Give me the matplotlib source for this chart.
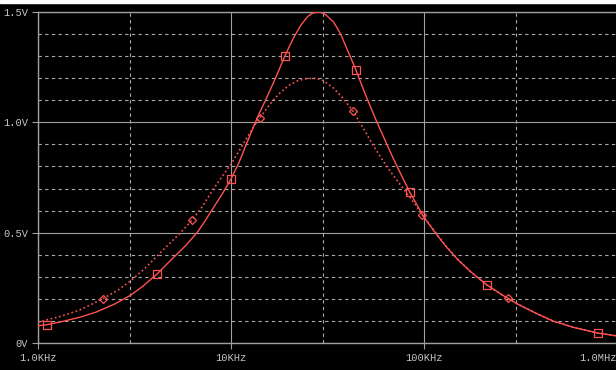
import matplotlib
matplotlib.use("Agg")
import matplotlib.pyplot as plt
from matplotlib.patches import Rectangle

# frequencies in kHz, voltages in V
freq_solid = [1.0, 1.11, 1.3, 1.65, 2.0, 2.5, 3.0, 3.5, 4.14, 5.0, 5.8, 6.67, 7.3,
              8.0, 9.0, 10.0, 11.0, 12.0, 13.0, 14.0, 15.0, 17.0, 19.0, 21.0, 23.0,
              25.0, 26.5, 27.9, 29.5, 31.0, 34.0, 37.0, 40.0, 42.1, 44.4, 50.0,
              57.1, 65.0, 72.5, 84.3, 100.0, 115.0, 130.0, 150.0, 175.0, 212.0,
              250.0, 300.0, 380.0, 465.0, 600.0, 797.0, 1000.0]
v_solid = [0.078, 0.083, 0.095, 0.117, 0.140, 0.177, 0.215, 0.258, 0.313, 0.385,
           0.440, 0.500, 0.550, 0.605, 0.675, 0.743, 0.818, 0.900, 0.975, 1.040,
           1.095, 1.200, 1.300, 1.380, 1.440, 1.480, 1.495, 1.500, 1.497, 1.487,
           1.455, 1.400, 1.330, 1.285, 1.237, 1.120, 1.000, 0.890, 0.800, 0.684,
           0.570, 0.497, 0.437, 0.377, 0.322, 0.263, 0.222, 0.180, 0.135, 0.100,
           0.070, 0.045, 0.032]

freq_dot = [1.0, 1.3, 1.65, 2.16, 2.6, 3.0, 3.6, 4.43, 5.55, 6.28, 7.0, 8.0, 9.0,
            10.0, 11.0, 12.0, 13.0, 14.1, 16.0, 18.0, 20.0, 22.0, 24.0, 26.3, 28.0,
            30.0, 34.0, 38.0, 42.9, 48.0, 55.0, 64.1, 72.0, 80.7, 90.0, 97.9,
            115.0, 130.0, 150.0, 175.0, 212.0, 250.0, 300.0, 380.0, 465.0, 600.0,
            797.0, 1000.0]
v_dot = [0.095, 0.120, 0.150, 0.200, 0.240, 0.280, 0.340, 0.420, 0.505, 0.557,
         0.610, 0.690, 0.755, 0.810, 0.870, 0.925, 0.975, 1.020, 1.085, 1.135,
         1.168, 1.187, 1.197, 1.200, 1.198, 1.190, 1.155, 1.110, 1.050, 0.980,
         0.890, 0.800, 0.740, 0.683, 0.628, 0.580, 0.500, 0.440, 0.378, 0.322,
         0.262, 0.221, 0.180, 0.135, 0.100, 0.070, 0.045, 0.032]

# marker positions
sq_freq = [1.11, 4.14, 10.0, 19.0, 44.4, 84.3, 212.0, 797.0]
sq_v = [0.083, 0.313, 0.743, 1.300, 1.237, 0.684, 0.263, 0.045]
dm_freq = [2.16, 6.28, 14.1, 42.9, 97.9, 273.0]
dm_v = [0.200, 0.557, 1.020, 1.050, 0.580, 0.204]

x_ticks = [1e3, 1e4, 1e5, 1e6]
x_labels = ["1.0KHz", "10KHz", "100KHz", "1.0MHz"]
y_ticks = [0, 0.5, 1.0, 1.5]
y_labels = ["0V", "0.5V", "1.0V", "1.5V"]

RED = "#ff5252"
LINE = "#a0a0a0"
TXT = "#c4c4c4"

W, H = 616, 370
fig = plt.figure(figsize=(W / 100, H / 100), dpi=100, facecolor="black")
fig.patches.append(Rectangle((0, 1 - 3 / H), 1, 3 / H, transform=fig.transFigure,
                             color="white", zorder=0))

# plot area: x 38..617 px, y 12..343 px
ax = fig.add_axes([38 / W, 27 / H, 579 / W, 331 / H])
ax.set_facecolor("black")
ax.set_xscale("log")
ax.set_xlim(1e3, 1e6)
ax.set_ylim(0, 1.5)

ax.set_xticks(x_ticks)
ax.set_xticklabels(x_labels)
ax.set_yticks(y_ticks)
ax.set_yticklabels(y_labels)
ax.set_xticks([3e3, 3e4, 3e5], minor=True)
ax.set_yticks([0.1, 0.2, 0.3, 0.4, 0.6, 0.7, 0.8, 0.9, 1.1, 1.2, 1.3, 1.4], minor=True)
ax.xaxis.set_minor_formatter(plt.NullFormatter())

ax.grid(True, which="major", color=LINE, lw=0.8, ls="-")
ax.grid(True, which="minor", color="#aaaaaa", lw=0.8, ls=(0, (3, 3)))
ax.tick_params(which="major", length=4, width=0.8, color=LINE, colors=TXT,
               labelsize=7.5, pad=3)
ax.tick_params(which="minor", length=0)
for lab in ax.get_xticklabels() + ax.get_yticklabels():
    lab.set_family(["Liberation Mono", "DejaVu Sans Mono"])
    lab.set_color(TXT)
ax.get_xticklabels()[-1].set_horizontalalignment("right")

for side in ["left", "bottom", "top"]:
    ax.spines[side].set_color(LINE)
    ax.spines[side].set_linewidth(1.0)
ax.spines["right"].set_visible(False)

fs = [f * 1e3 for f in freq_solid]
fd = [f * 1e3 for f in freq_dot]
ax.plot(fs, v_solid, color=RED, lw=1.0, zorder=3)
ax.plot(fd, v_dot, color=RED, lw=1.2, ls=(0, (1, 1.6)), zorder=3)
ax.plot([f * 1e3 for f in sq_freq], sq_v, ls="none", marker="s", ms=5.5,
        mfc="none", mec=RED, mew=0.9, zorder=4)
ax.plot([f * 1e3 for f in dm_freq], dm_v, ls="none", marker="D", ms=4.5,
        mfc="none", mec=RED, mew=0.9, zorder=4)

fig.savefig("out.png", dpi=100, facecolor=fig.get_facecolor())
